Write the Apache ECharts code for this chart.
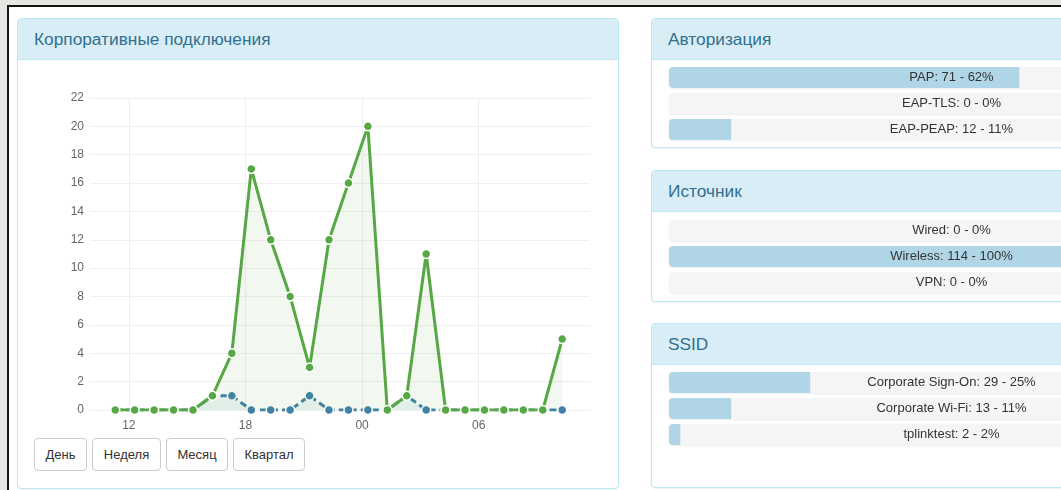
<!DOCTYPE html>
<html>
<head>
<meta charset="utf-8">
<script src="https://cdn.jsdelivr.net/npm/echarts@6/dist/echarts.min.js"></script>
<style>
html,body{margin:0;padding:0;width:1061px;height:490px;overflow:hidden;background:#e7e6e2;font-family:"Liberation Sans",Arial,sans-serif;position:relative;}
#frame{position:absolute;left:7px;top:5px;width:1100px;height:520px;border-left:2px solid #151515;border-top:2px solid #151515;background:#fff;}
.panel{position:absolute;border:1px solid #bce8f1;border-radius:4px;background:#fff;box-sizing:border-box;box-shadow:0 1px 1px rgba(0,0,0,.05);}
.ph{height:41px;background:#d9edf7;border-bottom:1px solid #bce8f1;border-radius:3px 3px 0 0;color:#31708f;font-size:17.3px;line-height:41px;padding-left:16px;box-sizing:border-box;}
.btn{position:absolute;top:438px;height:33px;border:1px solid #ccc;border-radius:4px;background:#fff;color:#333;font-size:13px;line-height:31px;text-align:center;box-sizing:border-box;}
#chart{position:absolute;left:0;top:0;width:1300px;height:490px;}
</style>
</head>
<body>
<div id="frame"></div>
<div class="panel" style="left:17px;top:18px;width:602px;height:471px;"><div class="ph">Корпоративные подключения</div></div>
<div class="panel" style="left:651px;top:18px;width:600px;height:130px;"><div class="ph">Авторизация</div></div>
<div class="panel" style="left:651px;top:170px;width:600px;height:132px;"><div class="ph">Источник</div></div>
<div class="panel" style="left:651px;top:323px;width:600px;height:165px;"><div class="ph">SSID</div></div>
<div class="btn" style="left:34px;width:53px;">День</div>
<div class="btn" style="left:92px;width:69px;">Неделя</div>
<div class="btn" style="left:166px;width:62px;">Месяц</div>
<div class="btn" style="left:233px;width:72px;">Квартал</div>
<div id="chart"></div>
<script>
// ---- line chart data (hour of day, continuing past midnight as 24+) ----
const hours = [11.3,12.3,13.3,14.3,15.3,16.3,17.3,18.3,19.3,20.3,21.3,22.3,23.3,24.3,25.3,26.3,27.3,28.3,29.3,30.3,31.3,32.3,33.3,34.3];
const greenValues = [0,0,0,0,0,1,4,17,12,8,3,12,16,20,0,1,11,0,0,0,0,0,0,5];
const blueValues  = [0,0,0,0,0,1,1,0,0,0,1,0,0,0,0,1,0,0,0,0,0,0,0,0];
const xTickValues = [12,18,24,30];
const yTicks = [0,2,4,6,8,10,12,14,16,18,20,22];

// ---- progress lists ----
const authNames = ['PAP','EAP-TLS','EAP-PEAP'];
const authCounts = [71,0,12];
const authPct = [62,0,11];
const srcNames = ['Wired','Wireless','VPN'];
const srcCounts = [0,114,0];
const srcPct = [0,100,0];
const ssidNames = ['Corporate Sign-On','Corporate Wi-Fi','tplinktest'];
const ssidCounts = [29,13,2];
const ssidPct = [25,11,2];

const GREEN = '#55a843', BLUE = '#3f80a8';
const FONT = '"Liberation Sans", Arial, sans-serif';

const chart = echarts.init(document.getElementById('chart'), null, {renderer:'canvas', width:1300, height:490});

const grids = [
  {left:90, top:98, width:500, height:312},
  {left:669, top:64.5, width:565, height:78},
  {left:669, top:217.5, width:565, height:78},
  {left:669, top:369.5, width:565, height:78}
];
const xAxes = [{
  type:'value', gridIndex:0, min:10, max:35.73,
  axisLine:{show:false},
  axisTick:{show:false, customValues:xTickValues},
  axisLabel:{customValues:xTickValues, color:'#666', fontSize:12, fontFamily:FONT, margin:10,
    formatter:v => String(Math.round(v)%24).padStart(2,'0')},
  splitLine:{show:true, lineStyle:{color:'#efefef', width:1}}
}];
const yAxes = [{
  type:'value', gridIndex:0, min:yTicks[0], max:yTicks[yTicks.length-1], interval:2,
  axisLine:{show:false}, axisTick:{show:false},
  axisLabel:{color:'#666', fontSize:12, fontFamily:FONT, margin:6},
  splitLine:{lineStyle:{color:'#efefef', width:1}}
}];
const series = [
  {type:'line', xAxisIndex:0, yAxisIndex:0, z:2, data:hours.map((h,i)=>[h, blueValues[i]]),
   symbol:'circle', symbolSize:9, showAllSymbol:true,
   lineStyle:{color:BLUE, width:3, type:[7,4]},
   itemStyle:{color:BLUE, borderColor:'#fff', borderWidth:1.5},
   areaStyle:{color:'rgba(63,128,168,0.12)'}, animation:false},
  {type:'line', xAxisIndex:0, yAxisIndex:0, z:3, data:hours.map((h,i)=>[h, greenValues[i]]),
   symbol:'circle', symbolSize:9, showAllSymbol:true,
   lineStyle:{color:GREEN, width:3},
   itemStyle:{color:GREEN, borderColor:'#fff', borderWidth:1.5},
   areaStyle:{color:'rgba(85,168,67,0.11)'}, animation:false}
];

function addList(gi, names, counts, pct){
  xAxes.push({type:'value', gridIndex:gi, min:0, max:100, show:false});
  yAxes.push({type:'category', gridIndex:gi, data:names, inverse:true, show:false});
  const ai = xAxes.length-1;
  series.push({type:'bar', xAxisIndex:ai, yAxisIndex:ai, barWidth:21, z:2, silent:true, animation:false,
    data:names.map(()=>100), itemStyle:{color:'#f5f5f5', borderRadius:4, shadowColor:'rgba(0,0,0,0.08)', shadowBlur:2, shadowOffsetY:1}});
  series.push({type:'bar', xAxisIndex:ai, yAxisIndex:ai, barWidth:21, barGap:'-100%', z:3, silent:true, animation:false,
    data:pct, itemStyle:{color:'#b0d5e6', borderRadius:[4,0,0,4]}});
  series.push({type:'bar', xAxisIndex:ai, yAxisIndex:ai, barWidth:21, barGap:'-100%', z:4, silent:true, animation:false,
    data:names.map(()=>100), itemStyle:{color:'rgba(0,0,0,0)'},
    label:{show:true, position:'inside', color:'#333', fontSize:13, fontFamily:FONT,
      formatter:p => names[p.dataIndex] + ': ' + counts[p.dataIndex] + ' - ' + pct[p.dataIndex] + '%'}});
}
addList(1, authNames, authCounts, authPct);
addList(2, srcNames, srcCounts, srcPct);
addList(3, ssidNames, ssidCounts, ssidPct);

chart.setOption({
  backgroundColor:'transparent',
  animation:false,
  textStyle:{fontFamily:FONT},
  grid:grids, xAxis:xAxes, yAxis:yAxes, series:series
});
</script>
</body>
</html>
